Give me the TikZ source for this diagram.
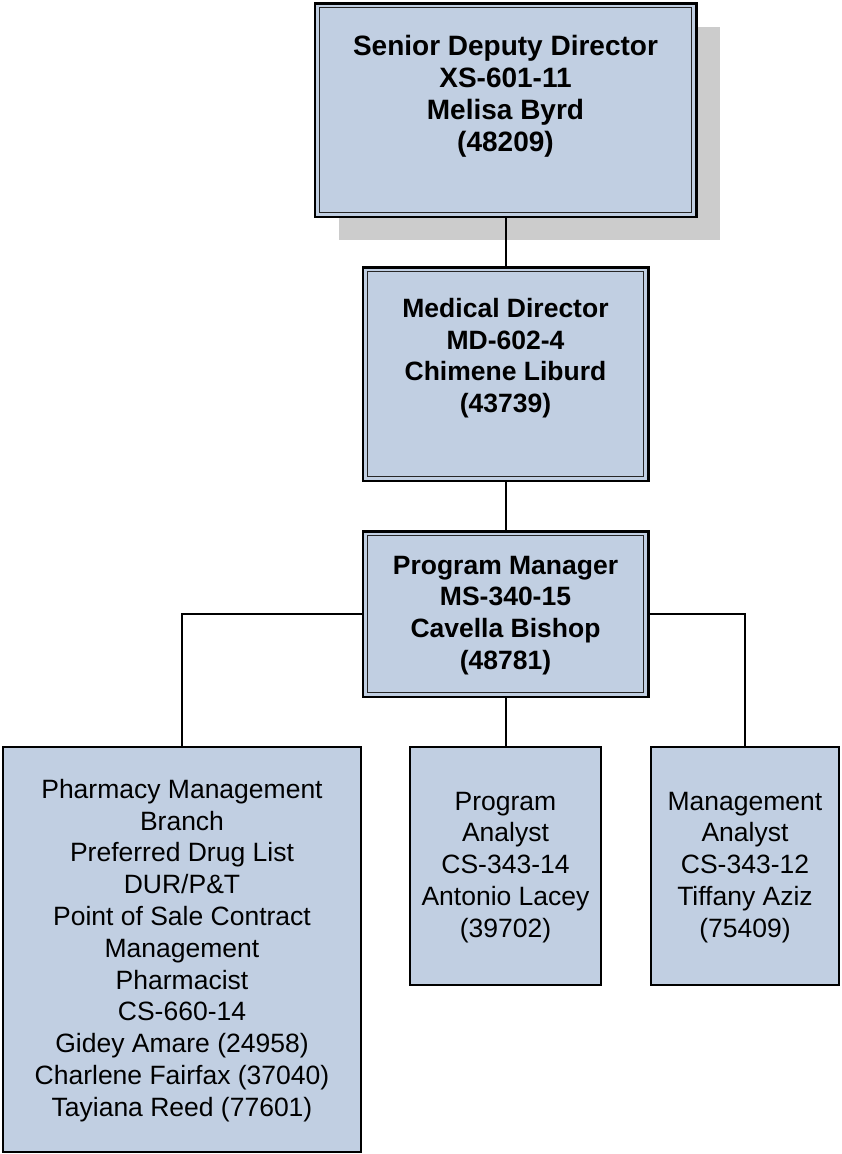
\documentclass[tikz,border=0pt]{standalone}
\usepackage{fontspec}
\setmainfont{Liberation Sans}
\usetikzlibrary{shadows}
\definecolor{boxfill}{RGB}{193,207,226}
\definecolor{shadowgray}{RGB}{204,204,204}
\newcommand{\boxlines}[1]{\begin{tabular}[t]{@{}c@{}}#1\end{tabular}}
\tikzset{
  orgbox/.style={draw=black, fill=boxfill, rectangle, inner sep=0pt, outer sep=0pt, line width=2pt},
  headbox/.style={orgbox, line width=2.5pt},
  innerline/.style={draw=black!85, line width=1.1pt},
  conn/.style={draw=black, line width=2pt},
  boldtxt/.style={inner sep=0pt, anchor=base, font=\bfseries\fontsize{26.5}{31.7}\selectfont},
  bigtxt/.style={inner sep=0pt, anchor=base, font=\bfseries\fontsize{28}{32.2}\selectfont},
  regtxt/.style={inner sep=0pt, anchor=base, font=\fontsize{26.5}{31.8}\selectfont},
}
\begin{document}
\begin{tikzpicture}[x=1pt,y=-1pt]
\useasboundingbox[fill=white] (0,0) rectangle (842,1154);

% boxes
\node[headbox, minimum width=381.5pt, minimum height=213.5pt,
      drop shadow={fill=shadowgray, opacity=1, shadow xshift=24pt, shadow yshift=-23.5pt}] (sdd) at (505.5,110) {};
\node[headbox, minimum width=285.5pt, minimum height=213.5pt] (md) at (505.5,374) {};
\node[headbox, minimum width=285.5pt, minimum height=165.5pt] (pm) at (505.5,614) {};
\node[orgbox, minimum width=358pt, minimum height=405pt] (pharm) at (182,949.5) {};
\node[orgbox, minimum width=191pt, minimum height=238pt] (pa) at (505.5,866) {};
\node[orgbox, minimum width=188pt, minimum height=238pt] (ma) at (745,866) {};

% inner lines of the double borders
\foreach \n in {sdd,md,pm}
  \draw[innerline] ([xshift=4.5pt,yshift=-4.5pt]\n.north west) rectangle ([xshift=-4.5pt,yshift=4.5pt]\n.south east);

% texts
\node[bigtxt] (sddT) at (505.5,55) {\boxlines{Senior Deputy Director\\XS-601-11\\Melisa Byrd\\(48209)}};
\node[boldtxt] (mdT) at (505.5,317.3) {\boxlines{Medical Director\\MD-602-4\\Chimene Liburd\\(43739)}};
\node[boldtxt] (pmT) at (505.5,574) {\boxlines{Program Manager\\MS-340-15\\Cavella Bishop\\(48781)}};
\node[regtxt] (pharmT) at (182,798.3) {\boxlines{Pharmacy Management\\Branch\\Preferred Drug List\\DUR/P\&T\\Point of Sale Contract\\Management\\Pharmacist\\CS-660-14\\Gidey Amare (24958)\\Charlene Fairfax (37040)\\Tayiana Reed (77601)}};
\node[regtxt] (paT) at (505.5,810) {\boxlines{Program\\Analyst\\CS-343-14\\Antonio Lacey\\(39702)}};
\node[regtxt] (maT) at (745,810) {\boxlines{Management\\Analyst\\CS-343-12\\Tiffany Aziz\\(75409)}};

% connectors
\draw[conn] (sdd.south) -- (md.north);
\draw[conn] (md.south) -- (pm.north);
\draw[conn] (pm.south) -- (pa.north);
\draw[conn] (pm.west) -| (pharm.north);
\draw[conn] (pm.east) -| (ma.north);
\end{tikzpicture}
\end{document}
